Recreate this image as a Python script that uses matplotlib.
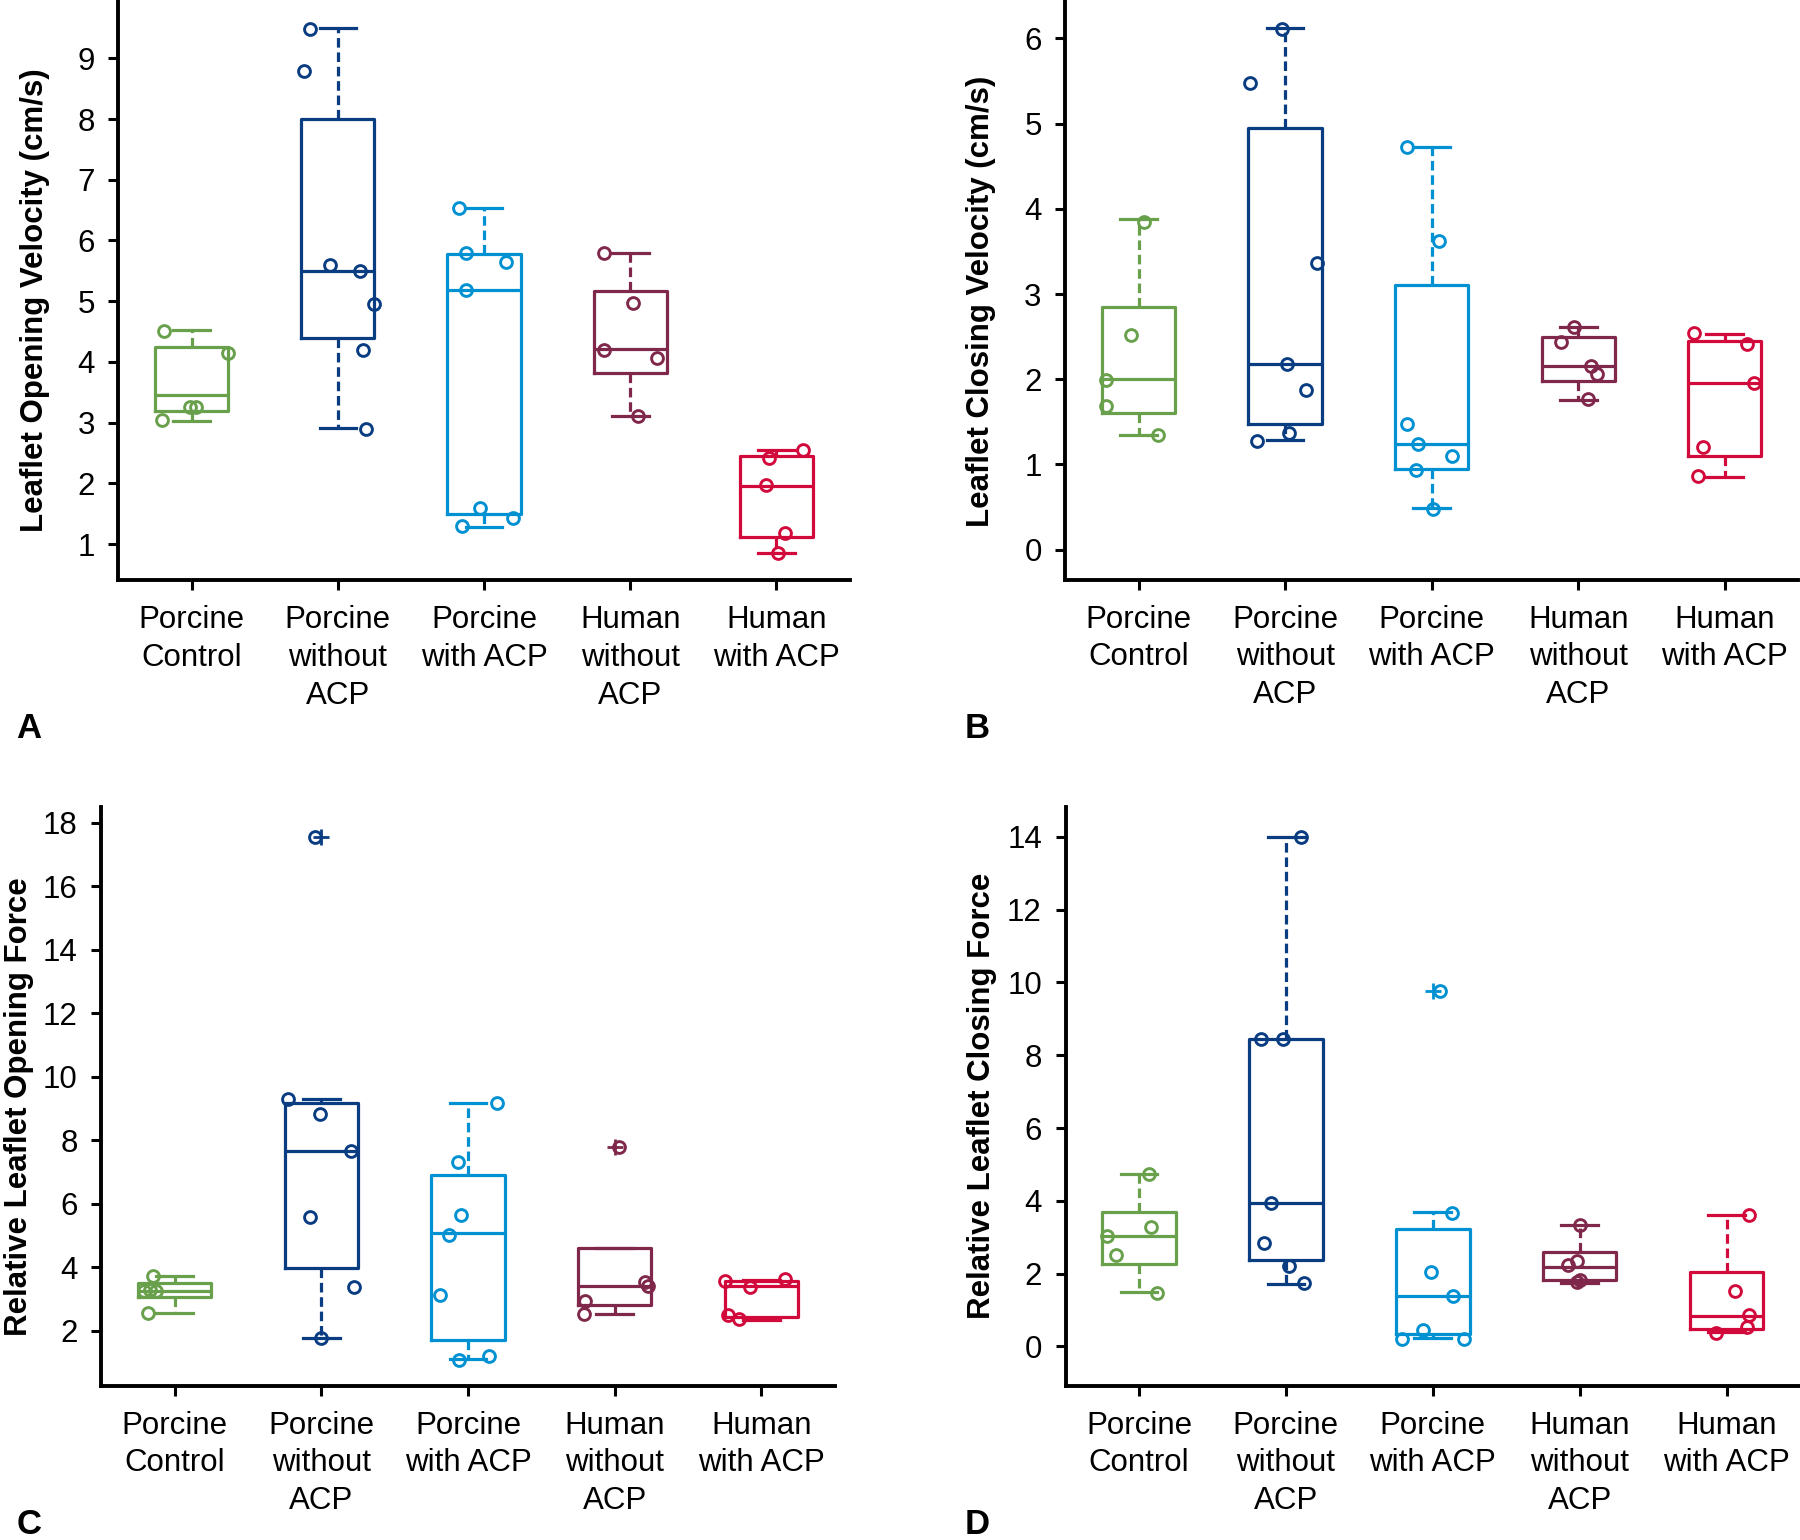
import matplotlib
matplotlib.use("Agg")
import matplotlib.pyplot as plt
import numpy as np

plt.rcParams['font.family'] = ['Liberation Sans', 'DejaVu Sans']

groups = ["Porcine\nControl", "Porcine\nwithout\nACP", "Porcine\nwith ACP",
          "Human\nwithout\nACP", "Human\nwith ACP"]
colors = ["#68A04C", "#0A3C82", "#0091D2", "#80284B", "#D20A3C"]

# ---------------- Panel A: Leaflet Opening Velocity (cm/s) ----------------
A_points = [
    [4.51, 4.15, 3.25, 3.25, 3.04],
    [9.48, 8.79, 5.60, 5.49, 4.95, 4.19, 2.90],
    [6.53, 5.80, 5.65, 5.19, 1.60, 1.43, 1.30],
    [5.80, 4.97, 4.19, 4.07, 3.11],
    [2.55, 2.42, 1.97, 1.19, 0.86],
]
A_jitter = [
    [-0.19, 0.25, -0.01, 0.03, -0.20],
    [-0.19, -0.23, -0.05, 0.15, 0.25, 0.17, 0.19],
    [-0.17, -0.12, 0.15, -0.12, -0.03, 0.20, -0.15],
    [-0.18, 0.02, -0.18, 0.18, 0.05],
    [0.18, -0.05, -0.07, 0.06, 0.01],
]
A_q1 = [3.20, 4.39, 1.49, 3.82, 1.12]
A_med = [3.45, 5.49, 5.18, 4.21, 1.96]
A_q3 = [4.24, 8.00, 5.78, 5.17, 2.45]
A_wlo = [3.02, 2.92, 1.28, 3.11, 0.86]
A_whi = [4.52, 9.50, 6.53, 5.79, 2.55]
A_fliers = [[], [], [], [], []]

# ---------------- Panel B: Leaflet Closing Velocity (cm/s) ----------------
B_points = [
    [3.85, 2.52, 1.99, 1.69, 1.35],
    [6.11, 5.48, 3.36, 2.18, 1.87, 1.37, 1.28],
    [4.72, 3.62, 1.47, 1.24, 1.10, 0.94, 0.48],
    [2.61, 2.44, 2.16, 2.06, 1.77],
    [2.54, 2.41, 1.96, 1.20, 0.86],
]
B_jitter = [
    [0.04, -0.05, -0.22, -0.22, 0.13],
    [-0.02, -0.24, 0.22, 0.01, 0.14, 0.03, -0.19],
    [-0.17, 0.05, -0.17, -0.09, 0.14, -0.11, 0.01],
    [-0.03, -0.12, 0.09, 0.13, 0.07],
    [-0.21, 0.15, 0.20, -0.15, -0.18],
]
B_q1 = [1.60, 1.48, 0.95, 1.98, 1.10]
B_med = [2.00, 2.18, 1.24, 2.16, 1.95]
B_q3 = [2.85, 4.95, 3.11, 2.49, 2.45]
B_wlo = [1.35, 1.29, 0.49, 1.76, 0.85]
B_whi = [3.88, 6.12, 4.72, 2.61, 2.53]
B_fliers = [[], [], [], [], []]

# ---------------- Panel C: Relative Leaflet Opening Force ----------------
C_points = [
    [3.72, 3.28, 3.24, 3.24, 2.54],
    [17.56, 9.31, 8.81, 7.65, 5.57, 3.36, 1.77],
    [9.16, 7.32, 5.65, 5.01, 3.12, 1.20, 1.07],
    [7.79, 3.54, 3.42, 2.93, 2.51],
    [3.63, 3.55, 3.36, 2.48, 2.36],
]
C_jitter = [
    [-0.15, -0.17, -0.21, -0.13, -0.18],
    [-0.04, -0.23, -0.01, 0.20, -0.08, 0.22, 0.00],
    [0.20, -0.07, -0.05, -0.13, -0.19, 0.14, -0.06],
    [0.03, 0.21, 0.23, -0.20, -0.21],
    [0.16, -0.25, -0.08, -0.23, -0.15],
]
C_q1 = [3.05, 3.96, 1.70, 2.81, 2.42]
C_med = [3.24, 7.65, 5.06, 3.40, 3.40]
C_q3 = [3.49, 9.16, 6.90, 4.61, 3.55]
C_wlo = [2.54, 1.77, 1.10, 2.51, 2.33]
C_whi = [3.72, 9.29, 9.16, 4.61, 3.61]
C_fliers = [[], [17.56], [], [7.79], []]

# ---------------- Panel D: Relative Leaflet Closing Force ----------------
D_points = [
    [4.73, 3.29, 3.02, 2.52, 1.47],
    [14.00, 8.44, 8.44, 3.93, 2.84, 2.21, 1.74],
    [9.77, 3.67, 2.04, 1.39, 0.46, 0.21, 0.21],
    [3.33, 2.35, 2.23, 1.82, 1.78],
    [3.62, 1.53, 0.87, 0.54, 0.37],
]
D_jitter = [
    [0.07, 0.08, -0.22, -0.16, 0.12],
    [0.10, -0.17, -0.02, -0.10, -0.15, 0.02, 0.12],
    [0.05, 0.13, -0.01, 0.14, -0.07, -0.21, 0.21],
    [0.00, -0.02, -0.08, 0.00, -0.02],
    [0.15, 0.06, 0.15, 0.14, -0.07],
]
D_q1 = [2.26, 2.37, 0.33, 1.82, 0.47]
D_med = [3.02, 3.93, 1.39, 2.19, 0.82]
D_q3 = [3.69, 8.45, 3.23, 2.58, 2.04]
D_wlo = [1.49, 1.71, 0.24, 1.73, 0.39]
D_whi = [4.73, 14.00, 3.69, 3.33, 3.62]
D_fliers = [[], [], [9.77], [], []]

panels = [
    dict(points=A_points, jitter=A_jitter, q1=A_q1, med=A_med, q3=A_q3, wlo=A_wlo, whi=A_whi,
         fliers=A_fliers, ylabel="Leaflet Opening Velocity (cm/s)", ylim=(0.41, 9.96),
         yticks=np.arange(1, 10, 1), letter="A",
         rect=[0.0658, 0.6234, 0.4062, 0.3766], lab=(-0.094, 0.483), letterpos=(0.009, 0.521)),
    dict(points=B_points, jitter=B_jitter, q1=B_q1, med=B_med, q3=B_q3, wlo=B_wlo, whi=B_whi,
         fliers=B_fliers, ylabel="Leaflet Closing Velocity (cm/s)", ylim=(-0.35, 6.45),
         yticks=np.arange(0, 7, 1), letter="B",
         rect=[0.5918, 0.6237, 0.4071, 0.3763], lab=(-0.094, 0.48), letterpos=(0.536, 0.521)),
    dict(points=C_points, jitter=C_jitter, q1=C_q1, med=C_med, q3=C_q3, wlo=C_wlo, whi=C_whi,
         fliers=C_fliers, ylabel="Relative Leaflet Opening Force", ylim=(0.27, 18.5),
         yticks=np.arange(2, 19, 2), letter="C",
         rect=[0.0563, 0.1003, 0.4074, 0.3758], lab=(-0.0925, 0.4815), letterpos=(0.009, 0.004)),
    dict(points=D_points, jitter=D_jitter, q1=D_q1, med=D_med, q3=D_q3, wlo=D_wlo, whi=D_whi,
         fliers=D_fliers, ylabel="Relative Leaflet Closing Force", ylim=(-1.08, 14.83),
         yticks=np.arange(0, 15, 2), letter="D",
         rect=[0.592, 0.1003, 0.408, 0.3758], lab=(-0.094, 0.50), letterpos=(0.536, 0.004)),
]

fig = plt.figure(figsize=(18, 15.4), dpi=100)
positions = np.arange(1, len(groups) + 1)
LW = 2.3

for p in panels:
    ax = fig.add_axes(p["rect"])
    stats = []
    for i in range(len(groups)):
        stats.append(dict(q1=p["q1"][i], med=p["med"][i], q3=p["q3"][i],
                          whislo=p["wlo"][i], whishi=p["whi"][i], fliers=p["fliers"][i]))
    bp = ax.bxp(stats, positions=positions, widths=0.5, capwidths=0.25,
                showfliers=True, patch_artist=False,
                boxprops=dict(linewidth=LW),
                medianprops=dict(linewidth=LW),
                whiskerprops=dict(linewidth=LW, linestyle=(0, (3, 1.5))),
                capprops=dict(linewidth=LW),
                flierprops=dict(marker='+', markersize=11, markeredgewidth=2.0))
    for i, c in enumerate(colors):
        bp['boxes'][i].set_color(c)
        bp['medians'][i].set_color(c)
        for k in (2 * i, 2 * i + 1):
            bp['whiskers'][k].set_color(c)
            bp['caps'][k].set_color(c)
        bp['fliers'][i].set_markeredgecolor(c)
        bp['fliers'][i].set_markerfacecolor(c)
        xs = positions[i] + np.array(p["jitter"][i])
        ax.plot(xs, p["points"][i], linestyle='none', marker='o', markersize=8.5,
                markerfacecolor='none', markeredgecolor=c, markeredgewidth=2.1, zorder=4)

    ax.set_xlim(0.5, 5.5)
    ax.set_ylim(*p["ylim"])
    ax.set_yticks(p["yticks"])
    ax.set_xticks(positions)
    ax.set_xticklabels(groups, fontsize=22.5, linespacing=1.34)
    ax.tick_params(axis='y', labelsize=22.5, width=2.2, length=7, direction='out', pad=10)
    ax.tick_params(axis='x', width=2.2, length=7, direction='out', pad=11)
    for s in ('top', 'right'):
        ax.spines[s].set_visible(False)
    for s in ('left', 'bottom'):
        ax.spines[s].set_linewidth(2.8)
    ax.set_ylabel(p["ylabel"], fontsize=22.5, fontweight='bold')
    ax.yaxis.set_label_coords(*p["lab"])
    fig.text(p["letterpos"][0], p["letterpos"][1], p["letter"], fontsize=25,
             fontweight='bold', ha='left', va='baseline')

fig.savefig("out.png", dpi=100)
